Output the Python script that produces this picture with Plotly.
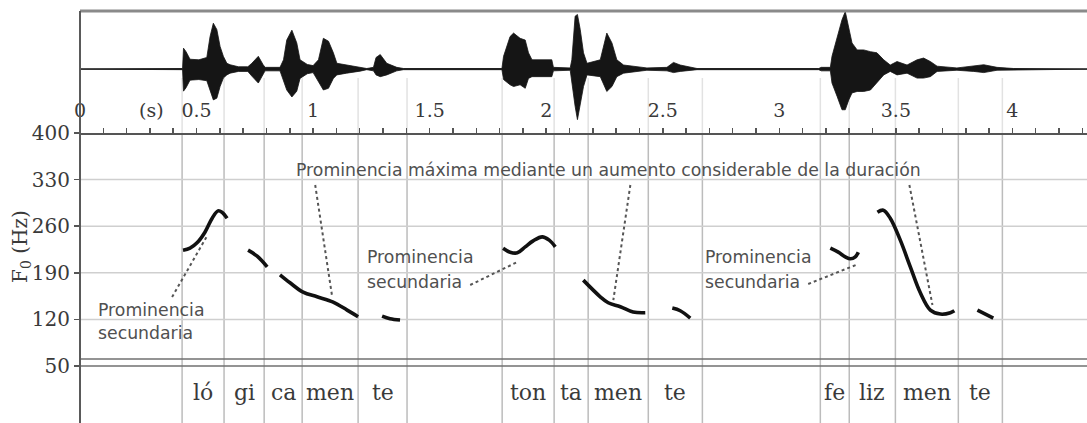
import plotly.graph_objects as go

# ---------------- data ----------------
x_range = [0, 4.32]
time_ticks = [0, 0.5, 1, 1.5, 2, 2.5, 3, 3.5, 4]
time_tick_labels = ["0", "0.5", "1", "1.5", "2", "2.5", "3", "3.5", "4"]
f0_ticks = [50, 120, 190, 260, 330, 400]
f0_grid = [120, 190, 260, 330]

boundaries = [0.438, 0.618, 0.790, 0.953, 1.193, 1.403, 1.811, 2.034, 2.180,
              2.438, 2.670, 3.176, 3.300, 3.498, 3.768, 3.957]
syllables = ["ló", "gi", "ca", "men", "te", "", "ton", "ta", "men", "te", "",
             "fe", "liz", "men", "te"]

# waveform envelope (time, upper, lower amplitude)
wave_t = [0.000, 0.440, 0.444, 0.455, 0.472, 0.510, 0.544, 0.558, 0.572, 0.587,
          0.601, 0.615, 0.630, 0.644, 0.680, 0.720, 0.737, 0.765, 0.785, 0.794,
          0.858, 0.873, 0.887, 0.909, 0.930, 0.944, 0.975, 1.000, 1.023, 1.044,
          1.066, 1.087, 1.102, 1.144, 1.202, 1.230, 1.259, 1.270, 1.288, 1.316,
          1.359, 1.388, 1.810, 1.817, 1.845, 1.860, 1.888, 1.910, 1.924, 1.939,
          2.024, 2.031, 2.103, 2.110, 2.124, 2.134, 2.146, 2.160, 2.175, 2.232,
          2.260, 2.282, 2.303, 2.332, 2.432, 2.518, 2.546, 2.575, 2.647, 3.169,
          3.180, 3.219, 3.226, 3.248, 3.269, 3.283, 3.298, 3.312, 3.334, 3.362,
          3.391, 3.419, 3.448, 3.476, 3.505, 3.548, 3.591, 3.619, 3.648, 3.677,
          3.762, 3.834, 3.877, 3.934, 4.005, 4.320]
wave_up = [0.0, 0.01, 0.36, 0.30, 0.17, 0.16, 0.20, 0.56, 0.79, 0.68,
           0.39, 0.22, 0.10, 0.075, 0.04, 0.04, 0.10, 0.22, 0.08, 0.03,
           0.03, 0.16, 0.50, 0.67, 0.45, 0.16, 0.08, 0.06, 0.16, 0.53,
           0.48, 0.28, 0.10, 0.07, 0.035, 0.01, 0.03, 0.20, 0.25, 0.10,
           0.03, 0.01, 0.01, 0.22, 0.56, 0.62, 0.53, 0.50, 0.28, 0.16,
           0.16, 0.03, 0.02, 0.16, 0.91, 0.94, 0.68, 0.28, 0.10, 0.16,
           0.62, 0.45, 0.16, 0.07, 0.02, 0.03, 0.115, 0.07, 0.01, 0.01,
           0.03, 0.03, 0.22, 0.56, 0.85, 0.99, 0.68, 0.45, 0.33, 0.33,
           0.30, 0.28, 0.16, 0.07, 0.13, 0.07, 0.16, 0.19, 0.13, 0.05,
           0.02, 0.05, 0.075, 0.03, 0.01, 0.0]
wave_lo = [0.0, -0.01, -0.38, -0.32, -0.19, -0.18, -0.20, -0.36, -0.53, -0.50,
           -0.30, -0.155, -0.10, -0.07, -0.04, -0.04, -0.12, -0.24, -0.10, -0.03,
           -0.03, -0.18, -0.36, -0.48, -0.38, -0.16, -0.08, -0.06, -0.21, -0.36,
           -0.33, -0.16, -0.10, -0.07, -0.035, -0.01, -0.03, -0.10, -0.13, -0.10,
           -0.03, -0.01, -0.01, -0.18, -0.27, -0.30, -0.27, -0.33, -0.16, -0.13,
           -0.13, -0.03, -0.02, -0.16, -0.64, -0.87, -0.59, -0.30, -0.10, -0.13,
           -0.385, -0.30, -0.13, -0.07, -0.02, -0.03, -0.06, -0.04, -0.01, -0.01,
           -0.03, -0.03, -0.24, -0.47, -0.70, -0.70, -0.53, -0.41, -0.385, -0.385,
           -0.36, -0.24, -0.10, -0.04, -0.10, -0.07, -0.155, -0.155, -0.13, -0.04,
           -0.02, -0.04, -0.06, -0.02, -0.01, 0.0]

# F0 contour segments
f0_t = [
    [0.442, 0.472, 0.502, 0.536, 0.567, 0.592, 0.609, 0.631],
    [0.721, 0.760, 0.803],
    [0.858, 0.901, 0.957, 1.017, 1.086, 1.146, 1.193],
    [1.296, 1.330, 1.373],
    [1.815, 1.845, 1.876, 1.910, 1.944, 1.983, 2.013, 2.039],
    [2.159, 2.232, 2.266, 2.318, 2.373, 2.425],
    [2.541, 2.575, 2.618],
    [3.219, 3.253, 3.283, 3.305, 3.326, 3.339],
    [3.421, 3.446, 3.476, 3.519, 3.562, 3.605, 3.648, 3.691, 3.734, 3.751],
    [3.850, 3.884, 3.918],
]
f0_hz = [
    [224, 227, 235, 251, 272, 283, 281, 272],
    [224, 215, 199],
    [187, 175, 161, 154, 146, 134, 124],
    [125, 121, 119],
    [227, 221, 220, 229, 238, 244, 239, 229],
    [179, 154, 145, 139, 131, 130],
    [137, 133, 122],
    [227, 221, 214, 211, 214, 221],
    [281, 284, 272, 239, 199, 160, 134, 128, 130, 133],
    [134, 128, 122],
]

# annotation texts
note_text = ["Prominencia máxima mediante un aumento considerable de la duración",
             "Prominencia", "secundaria",
             "Prominencia", "secundaria",
             "Prominencia", "secundaria"]
note_t = [2.266, 0.070, 0.070, 1.221, 1.221, 2.672, 2.672]
note_hz = [344.4, 134, 99.6, 213.7, 176.2, 213.7, 176.2]
note_anchor = ["center", "left", "left", "left", "left", "left", "left"]

# dotted leader lines
lead_t0 = [0.395, 1.009, 2.361, 3.558, 1.674, 3.124]
lead_hz0 = [153.6, 321.9, 321.9, 321.9, 171.7, 173.2]
lead_t1 = [0.545, 1.082, 2.288, 3.657, 1.876, 3.339]
lead_hz1 = [245.3, 153.6, 149.1, 141.6, 206.2, 203.2]

# ---------------- layout geometry ----------------
H = 423
def py(pix):
    return (H - pix) / H

F0_BOTTOM = py(366)
F0_TOP = py(133)
WAVE_TOP = py(11)

fig = go.Figure()

# waveform
fig.add_trace(go.Scatter(
    x=wave_t + wave_t[::-1], y=wave_up + wave_lo[::-1],
    fill="toself", fillcolor="#151515", mode="lines",
    line=dict(color="#151515", width=0.8), xaxis="x2", yaxis="y2",
    hoverinfo="skip", showlegend=False))

# F0 contour
for ts, hz in zip(f0_t, f0_hz):
    fig.add_trace(go.Scatter(
        x=ts, y=hz, mode="lines", xaxis="x", yaxis="y",
        line=dict(color="#111111", width=3.6, shape="spline"),
        showlegend=False, hoverinfo="skip"))

shapes = []
# vertical boundaries
for b in boundaries:
    shapes.append(dict(type="line", xref="x", yref="paper", x0=b, x1=b,
                       y0=0, y1=F0_TOP, line=dict(color="#bcbcbc", width=1.5),
                       layer="below"))
    shapes.append(dict(type="line", xref="x", yref="paper", x0=b, x1=b,
                       y0=F0_TOP, y1=py(78), line=dict(color="#e2e2e2", width=1.5),
                       layer="below"))
# horizontal gridlines
for g in f0_grid:
    shapes.append(dict(type="line", xref="paper", yref="y", x0=0, x1=1,
                       y0=g, y1=g, line=dict(color="#cfcfcf", width=1.5),
                       layer="below"))
# double line at bottom of F0
for p in [359, 366]:
    shapes.append(dict(type="line", xref="paper", yref="paper", x0=0, x1=1,
                       y0=py(p), y1=py(p), line=dict(color="#707070", width=1.6)))
# top border
shapes.append(dict(type="line", xref="paper", yref="paper", x0=0, x1=1,
                   y0=WAVE_TOP, y1=WAVE_TOP, line=dict(color="#8a8a8a", width=3)))
# zero line of waveform
shapes.append(dict(type="line", xref="paper", yref="y2", x0=0, x1=1,
                   y0=0, y1=0, line=dict(color="#777777", width=1.5), layer="below"))
# left border
shapes.append(dict(type="line", xref="paper", yref="paper", x0=0, x1=0,
                   y0=0, y1=WAVE_TOP, line=dict(color="#5a5a5a", width=2)))
# leaders
for a, b, c, d in zip(lead_t0, lead_hz0, lead_t1, lead_hz1):
    shapes.append(dict(type="line", xref="x", yref="y", x0=a, y0=b, x1=c, y1=d,
                       line=dict(color="#555555", width=2, dash="dot")))

annotations = []
sans = "DejaVu Sans"
serif = "DejaVu Serif"
for txt, t, hz, anc in zip(note_text, note_t, note_hz, note_anchor):
    annotations.append(dict(text=txt, x=t, y=hz, xref="x", yref="y",
                            xanchor=anc, yanchor="middle", showarrow=False,
                            font=dict(family=sans, size=17.3, color="#505050")))
# syllables
for i, s in enumerate(syllables):
    if s:
        mid = (boundaries[i] + boundaries[i + 1]) / 2
        annotations.append(dict(text=s, x=mid, y=py(392), xref="x", yref="paper",
                                xanchor="center", yanchor="middle", showarrow=False,
                                font=dict(family=serif, size=22, color="#3a3a3a")))
# (s) label
annotations.append(dict(text="(s)", x=0.305, y=py(110), xref="x", yref="paper",
                        xanchor="center", yanchor="middle", showarrow=False,
                        font=dict(family=serif, size=19, color="#3a3a3a")))
# y title
annotations.append(dict(text="F<sub>0</sub> (Hz)", x=-59 / 1007, y=py(247),
                        xref="paper", yref="paper", xanchor="center",
                        yanchor="middle", textangle=-90, showarrow=False,
                        font=dict(family=serif, size=20, color="#3a3a3a")))

fig.update_layout(
    width=1087, height=423,
    margin=dict(l=80, r=0, t=0, b=0, autoexpand=False),
    paper_bgcolor="white", plot_bgcolor="white",
    showlegend=False,
    xaxis=dict(domain=[0, 1], range=x_range, showticklabels=False, ticks="",
               showgrid=False, zeroline=False, showline=False, anchor="y",
               automargin=False),
    yaxis=dict(domain=[F0_BOTTOM, F0_TOP], range=[50, 400], tickvals=f0_ticks,
               ticks="outside", ticklen=5, tickwidth=1.5, tickcolor="#555555",
               showgrid=False, zeroline=False, showline=False, automargin=False,
               tickfont=dict(family=serif, size=20, color="#3a3a3a"), anchor="x"),
    xaxis2=dict(domain=[0, 1], range=x_range, anchor="y2", matches="x",
                tickvals=time_ticks, ticktext=time_tick_labels,
                ticks="inside", ticklen=5, tickwidth=1.5, tickcolor="#555555",
                ticklabelposition="inside", ticklabelstandoff=8,
                ticklabeloverflow="allow", automargin=False,
                minor=dict(dtick=0.1, ticks="inside", ticklen=5, tickwidth=1.5,
                           tickcolor="#555555", showgrid=False),
                showline=True, linecolor="#555555", linewidth=2,
                showgrid=False, zeroline=False,
                tickfont=dict(family=serif, size=19, color="#3a3a3a")),
    yaxis2=dict(domain=[F0_TOP, WAVE_TOP], range=[-1.1, 1.0], visible=False,
                anchor="x2"),
    shapes=shapes,
    annotations=annotations,
)

fig.write_html("out.html",
               config={"displayModeBar": False, "staticPlot": True},
               post_script="document.body.style.margin='0';"
                           "document.body.style.padding='0';")
